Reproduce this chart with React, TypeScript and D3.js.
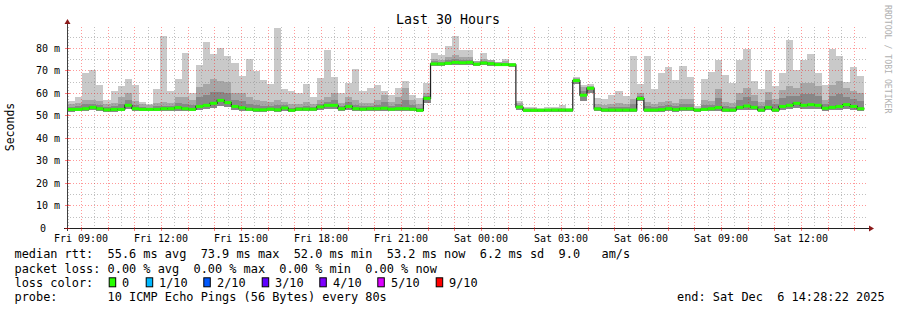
import React from 'react';
import * as d3 from 'd3';

// ---------- data ----------
const END_TIME = '2025-12-06T14:28:22Z';
const FIRST_BIN_END = '2025-12-05T08:46:20Z';
const BIN_MINUTES = 16;
const SPAN_HOURS = 30;

const medianRtt = [52.7,52.7,53.0,53.6,53.0,52.5,52.7,52.7,54.5,53.0, 52.7,52.7,52.7,53.0,53.0,53.5,53.0,52.7,54.0,54.5, 55.4,56.7,55.7,54.0,53.4,52.8,52.5,52.5,52.8,52.5, 53.3,52.3,52.8,52.8,52.8,53.8,54.5,54.5,53.0,54.0, 53.0,52.8,53.0,53.0,53.2,52.8,53.0,53.0,52.8,52.3, 57.6,72.9,72.9,73.2,73.6,73.4,73.6,72.8,73.3,73.0, 72.6,72.6,72.5,53.7,52.3,52.3,52.3,52.4,52.4,52.4, 52.4,65.5,59.0,62.1,52.9,52.4,52.4,52.4,52.4,52.4, 57.5,52.4,52.4,52.6,53.0,52.6,53.0,53.0,52.4,52.7, 53.0,53.5,52.4,52.4,53.6,54.2,53.6,52.4,53.6,52.4, 54.0,54.5,55.4,54.5,54.8,54.5,53.2,53.6,54.0,54.8, 54.0,53.0];
const maxRtt = [56.4,58.1,69.0,70.2,63.6,56.9,60.9,63.1,66.2,63.6, 56.1,55.1,61.8,85.3,60.9,66.1,77.9,59.8,72.4,82.7, 77.5,80.0,76.6,73.5,67.6,75.0,69.9,65.8,63.8,88.9, 61.8,60.9,60.1,64.1,58.1,66.5,79.1,67.1,59.8,64.4, 70.5,61.0,62.0,63.6,61.0,59.1,62.1,65.3,59.1,57.6, 64.6,77.6,76.9,80.9,85.5,79.1,79.1,74.2,77.6,74.7, 73.6,75.0,73.2,56.4,53.6,53.6,53.4,53.6,53.9,54.7, 53.1,67.0,63.6,63.8,57.6,57.3,59.1,60.9,58.7,76.4, 63.8,76.4,61.8,69.0,71.6,65.8,72.0,67.1,54.2,66.2, 69.5,74.7,68.0,64.2,74.7,79.6,65.3,61.8,70.0,63.0, 69.0,83.6,70.0,74.7,77.5,69.0,63.6,79.6,76.6,65.0, 71.6,67.6];
const p9Rtt = [55.0,55.5,57.0,57.0,56.5,55.0,55.5,58.0,60.0,56.5, 55.0,54.5,55.5,56.0,55.5,58.0,58.0,57.0,62.5,64.0, 66.0,65.3,65.0,60.0,60.0,58.0,57.0,56.5,56.0,57.0, 56.0,55.0,55.0,56.0,55.0,57.0,58.0,60.0,55.5,58.0, 57.0,55.5,55.5,57.0,59.0,56.0,58.0,62.0,57.0,55.0, 60.0,75.0,74.5,76.0,77.0,76.0,76.0,74.0,75.0,74.5, 73.6,74.0,73.2,55.5,53.2,53.2,53.0,53.0,53.2,53.5, 53.0,66.5,62.5,63.0,55.0,54.5,55.0,55.5,55.0,57.5, 60.0,56.0,55.0,56.0,56.5,55.5,57.5,57.5,53.5,57.0, 56.5,61.8,56.0,55.5,60.1,62.0,59.0,56.0,60.5,57.5, 61.5,63.0,62.0,64.5,64.6,63.0,57.0,63.5,65.3,62.0, 61.0,60.0];
const p8Rtt = [53.8,54.0,55.0,55.2,54.5,53.6,54.0,55.2,57.0,54.6, 53.8,53.5,54.0,54.3,54.1,55.6,55.2,54.6,58.0,59.0, 60.5,60.5,60.0,57.0,56.5,55.2,54.6,54.3,54.2,54.6, 54.5,53.5,53.8,54.3,53.8,55.2,56.0,57.0,54.1,56.0, 54.8,54.0,54.1,54.8,56.0,54.2,55.3,57.0,54.8,53.5, 58.8,74.0,73.8,74.6,75.2,74.6,74.7,73.4,74.1,73.7, 73.1,73.3,72.9,54.5,52.8,52.8,52.7,52.8,52.8,53.0, 52.7,66.0,60.8,62.5,53.9,53.4,53.6,53.9,53.6,54.9, 58.7,54.1,53.6,54.2,54.7,54.0,55.2,55.2,52.9,54.8, 54.7,57.6,54.2,53.9,56.8,58.0,56.3,54.2,57.0,54.9, 57.7,58.7,58.7,59.5,59.7,58.7,55.1,58.5,59.6,58.4, 57.5,56.5];
const minRtt = [51.7,51.8,52.0,52.3,51.9,51.6,51.7,51.8,52.8,51.9, 51.8,51.8,51.8,51.9,52.0,52.1,51.9,51.8,52.5,52.8, 53.2,54.0,53.6,52.6,52.2,51.8,51.6,51.6,51.8,51.5, 52.1,51.5,51.8,51.8,51.8,52.5,53.0,52.8,52.0,52.6, 52.0,51.8,52.0,52.0,52.1,51.8,52.0,52.0,51.8,51.5, 55.5,72.0,72.0,72.3,72.5,72.4,72.5,71.9,72.3,72.0, 71.8,71.8,71.7,52.6,51.6,51.6,51.6,51.6,51.6,51.6, 51.6,64.0,56.5,60.0,51.9,51.6,51.6,51.6,51.6,51.6, 56.3,51.6,51.6,51.7,52.0,51.7,52.0,52.0,51.6,51.8, 52.0,52.2,51.6,51.6,52.3,52.6,52.3,51.6,52.3,51.6, 52.4,52.7,53.2,52.7,52.9,52.7,52.2,52.4,52.6,52.9, 52.4,52.0];

const yTickValues = [0, 10, 20, 30, 40, 50, 60, 70, 80];
const yMinorValues = [5, 15, 25, 35, 45, 55, 65, 75, 85];
const Y_MAX = 89.3;

const lossLabels = ['0', '1/10', '2/10', '3/10', '4/10', '5/10', '9/10'];
const lossColors = ['#26ff00', '#00b8ff', '#0059ff', '#5e00ff', '#7e00ff', '#dd00ff', '#ff0000'];

const titleText = 'Last 30 Hours';
const yAxisTitle = 'Seconds';
const legendRow1 = 'median rtt:  55.6 ms avg  73.9 ms max  52.0 ms min  53.2 ms now  6.2 ms sd  9.0   am/s';
const legendRow2 = 'packet loss: 0.00 % avg  0.00 % max  0.00 % min  0.00 % now';
const legendRow3 = 'loss color:';
const legendRow4 = 'probe:       10 ICMP Echo Pings (56 Bytes) every 80s';
const endText = 'end: Sat Dec  6 14:28:22 2025';
const watermark = 'RRDTOOL / TOBI OETIKER';

// ---------- layout ----------
const W = 897, H = 310;
const L = 67, R = 867, T = 27, B = 228;
const MONO = '"DejaVu Sans Mono", monospace';

export default function App() {
  const end = new Date(END_TIME);
  const start = new Date(end.getTime() - SPAN_HOURS * 3600 * 1000);
  const x = d3.scaleUtc().domain([start, end]).range([L, R]);
  const y = d3.scaleLinear().domain([0, Y_MAX]).range([B, T]);

  const firstEnd = new Date(FIRST_BIN_END).getTime();
  const binMs = BIN_MINUTES * 60 * 1000;
  const bins = medianRtt.map((m, i) => {
    const e = firstEnd + i * binMs;
    const s = Math.max(e - binMs, start.getTime());
    return { x0: x(new Date(s)), x1: x(new Date(e)), med: m, max: maxRtt[i], p9: p9Rtt[i], p8: p8Rtt[i], min: minRtt[i] };
  });

  const medPts: [number, number][] = [];
  bins.forEach(b => { medPts.push([b.x0, y(b.med)]); medPts.push([b.x1, y(b.med)]); });
  const medLine = d3.line()(medPts) || '';

  const hours = d3.utcHour.every(1)!.range(start, end);
  const halfHours = d3.utcMinute.every(30)!.range(start, end).filter(d => d.getUTCMinutes() === 30);
  const labelTicks = d3.utcHour.every(3)!.range(start, end);
  const fmt = d3.utcFormat('%a %H:%M');

  const layers = [
    { lo: 'min', hi: 'max', color: '#c9c9c9' },
    { lo: 'min', hi: 'p9', color: '#a6a6a6' },
    { lo: 'min', hi: 'p8', color: '#878787' },
  ];

  const legendBoxX = [108.7, 145.7, 203.3, 261.7, 319.3, 377.3, 435.7];
  const legendLabelX = [122, 159, 217, 275, 333, 391, 449];

  return (
    <svg width={W} height={H} style={{ position: 'absolute', left: 0, top: 0, background: '#fff' }}>
      <rect x={0} y={0} width={W} height={H} fill="#ffffff" />
      {/* smoke */}
      {layers.map((ly, li) => (
        <g key={li}>
          {bins.map((b: any, i) => (
            <rect key={i} x={b.x0} width={b.x1 - b.x0} y={y(b[ly.hi])} height={y(b[ly.lo]) - y(b[ly.hi])} fill={ly.color} shapeRendering="crispEdges" />
          ))}
        </g>
      ))}
      {/* grid */}
      {yMinorValues.filter(v => v < Y_MAX).map(v => (
        <line key={'hm' + v} x1={L} x2={R} y1={Math.round(y(v)) + 0.5} y2={Math.round(y(v)) + 0.5} stroke="rgba(140,140,140,0.55)" strokeDasharray="1,2" />
      ))}
      {halfHours.map((d, i) => (
        <line key={'vm' + i} x1={Math.round(x(d)) + 0.5} x2={Math.round(x(d)) + 0.5} y1={T} y2={B} stroke="rgba(140,140,140,0.55)" strokeDasharray="1,2" />
      ))}
      {yTickValues.slice(1).map(v => (
        <line key={'hM' + v} x1={L} x2={R} y1={Math.round(y(v)) + 0.5} y2={Math.round(y(v)) + 0.5} stroke="rgba(255,0,0,0.4)" strokeDasharray="1,2" />
      ))}
      {hours.map((d, i) => (
        <line key={'vM' + i} x1={Math.round(x(d)) + 0.5} x2={Math.round(x(d)) + 0.5} y1={T} y2={B} stroke="rgba(255,0,0,0.4)" strokeDasharray="1,2" />
      ))}
      {/* median */}
      <path d={medLine} fill="none" stroke="#202020" strokeWidth={1.2} />
      {bins.map((b, i) => (
        <rect key={'g' + i} x={b.x0} width={b.x1 - b.x0} y={y(b.med) - 1.5} height={3} fill={lossColors[0]} />
      ))}
      {/* axes */}
      <line x1={L + 0.5} x2={L + 0.5} y1={B + 3} y2={T - 4} stroke="#404040" />
      <path d={`M${L - 2.5},${T - 3} L${L + 3.5},${T - 3} L${L + 0.5},${T - 8} Z`} fill="#8b1a1a" />
      <line x1={L - 3} x2={R + 3} y1={B + 0.5} y2={B + 0.5} stroke="#202020" />
      <path d={`M${R + 2},${B - 2.5} L${R + 2},${B + 3.5} L${R + 7},${B + 0.5} Z`} fill="#8b1a1a" />
      {hours.map((d, i) => (
        <line key={'tk' + i} x1={Math.round(x(d)) + 0.5} x2={Math.round(x(d)) + 0.5} y1={B - 1} y2={B + 3} stroke="rgba(255,0,0,0.5)" />
      ))}
      {yTickValues.map(v => (
        <line key={'yt' + v} x1={L - 2} x2={L + 3} y1={Math.round(y(v)) + 0.5} y2={Math.round(y(v)) + 0.5} stroke="rgba(255,0,0,0.5)" />
      ))}
      {/* tick labels */}
      {labelTicks.map((d, i) => (
        <text key={'xl' + i} x={x(d)} y={241.5} textAnchor="middle" fontFamily={MONO} fontSize={10} fill="#000">{fmt(d)}</text>
      ))}
      {yTickValues.map(v => (
        <text key={'yl' + v} x={v === 0 ? 46 : 60} y={y(v) + 3.6} textAnchor="end" fontFamily={MONO} fontSize={10} fill="#000">{v === 0 ? '0' : `${v} m`}</text>
      ))}
      {/* titles */}
      <text x={448} y={24} textAnchor="middle" fontFamily={MONO} fontSize={13.3} fill="#000">{titleText}</text>
      <text transform={`translate(14,127) rotate(-90)`} textAnchor="middle" fontFamily={MONO} fontSize={11.5} fill="#000">{yAxisTitle}</text>
      <text transform={`translate(885,5) rotate(90)`} textAnchor="start" fontFamily={MONO} fontSize={8.2} fill="#b0b0b0">{watermark}</text>
      {/* legend */}
      <g fontFamily={MONO} fontSize={11.9} fill="#000" style={{ whiteSpace: 'pre' }}>
        <text x={14.5} y={258.3} xmlSpace="preserve">{legendRow1}</text>
        <text x={14.5} y={272.5} xmlSpace="preserve">{legendRow2}</text>
        <text x={14.5} y={286.7} xmlSpace="preserve">{legendRow3}</text>
        {lossLabels.map((lab, i) => (
          <g key={lab}>
            <rect x={legendBoxX[i] + 0.5} y={277.8} width={6.5} height={9} fill={lossColors[i]} stroke="#000" strokeWidth={1} />
            <text x={legendLabelX[i]} y={286.7}>{lab}</text>
          </g>
        ))}
        <text x={14.5} y={300.7} xmlSpace="preserve">{legendRow4}</text>
        <text x={677} y={300.7} xmlSpace="preserve">{endText}</text>
      </g>
    </svg>
  );
}
